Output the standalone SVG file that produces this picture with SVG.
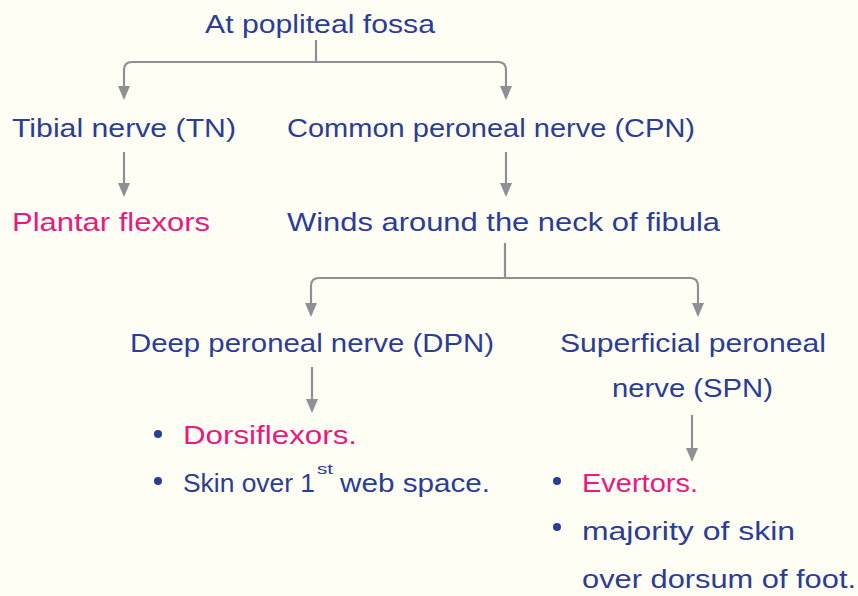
<svg xmlns="http://www.w3.org/2000/svg" width="858" height="596" viewBox="0 0 858 596">
<style>
text{font-family:"Liberation Sans","DejaVu Sans",sans-serif;font-size:25px;fill:#2b3d94}
.pk{fill:#e8197f}
.sup{font-size:14px}
.ln{fill:none;stroke:#8e9093;stroke-width:2.2}
.dot{fill:#2b3d94}
</style>
<defs>
<marker id="ah" viewBox="0 0 14 12" refX="12" refY="6" markerWidth="14" markerHeight="12" markerUnits="userSpaceOnUse" orient="auto-start-reverse">
<path d="M0,0 L14,6 L0,12 Z" fill="#8e9093"/>
</marker>
</defs>
<rect width="858" height="596" fill="#fffef5"/>
<g id="connectors">
<path class="ln" d="M316,40 V62"/>
<path class="ln" d="M124,98 V70 Q124,62 132,62 H498 Q506,62 506,70 V98" marker-start="url(#ah)" marker-end="url(#ah)"/>
<path class="ln" d="M124,152 V195" marker-end="url(#ah)"/>
<path class="ln" d="M506,152 V195" marker-end="url(#ah)"/>
<path class="ln" d="M505,243 V278"/>
<path class="ln" d="M311,315 V286 Q311,278 319,278 H690 Q698,278 698,286 V315" marker-start="url(#ah)" marker-end="url(#ah)"/>
<path class="ln" d="M312,367 V411" marker-end="url(#ah)"/>
<path class="ln" d="M692,415 V460" marker-end="url(#ah)"/>
</g>
<g id="root"><text x="205" y="33" textLength="230" lengthAdjust="spacingAndGlyphs">At popliteal fossa</text></g>
<g id="tn"><text x="12" y="137" textLength="224" lengthAdjust="spacingAndGlyphs">Tibial nerve (TN)</text></g>
<g id="cpn"><text x="287" y="137" textLength="408" lengthAdjust="spacingAndGlyphs">Common peroneal nerve (CPN)</text></g>
<g id="plantar"><text class="pk" x="12" y="231" textLength="198" lengthAdjust="spacingAndGlyphs">Plantar flexors</text></g>
<g id="winds"><text x="287" y="231" textLength="433" lengthAdjust="spacingAndGlyphs">Winds around the neck of fibula</text></g>
<g id="dpn"><text x="130" y="352" textLength="364" lengthAdjust="spacingAndGlyphs">Deep peroneal nerve (DPN)</text></g>
<g id="spn">
<text x="560" y="352" textLength="266" lengthAdjust="spacingAndGlyphs">Superficial peroneal</text>
<text x="612" y="397" textLength="161" lengthAdjust="spacingAndGlyphs">nerve (SPN)</text>
</g>
<g id="dpn-list">
<circle class="dot" cx="158" cy="434" r="4"/>
<text class="pk" x="183" y="444" textLength="174" lengthAdjust="spacingAndGlyphs">Dorsiflexors.</text>
<circle class="dot" cx="158" cy="481" r="4"/>
<text x="183" y="492" textLength="132" lengthAdjust="spacingAndGlyphs">Skin over 1</text>
<text class="sup" x="317" y="474" textLength="16" lengthAdjust="spacingAndGlyphs">st</text>
<text x="340" y="492" textLength="150" lengthAdjust="spacingAndGlyphs">web space.</text>
</g>
<g id="spn-list">
<circle class="dot" cx="557" cy="481" r="4"/>
<text class="pk" x="582" y="492" textLength="116" lengthAdjust="spacingAndGlyphs">Evertors.</text>
<circle class="dot" cx="557" cy="527" r="4"/>
<text x="582" y="540" textLength="213" lengthAdjust="spacingAndGlyphs">majority of skin</text>
<text x="582" y="588" textLength="274" lengthAdjust="spacingAndGlyphs">over dorsum of foot.</text>
</g>
</svg>
